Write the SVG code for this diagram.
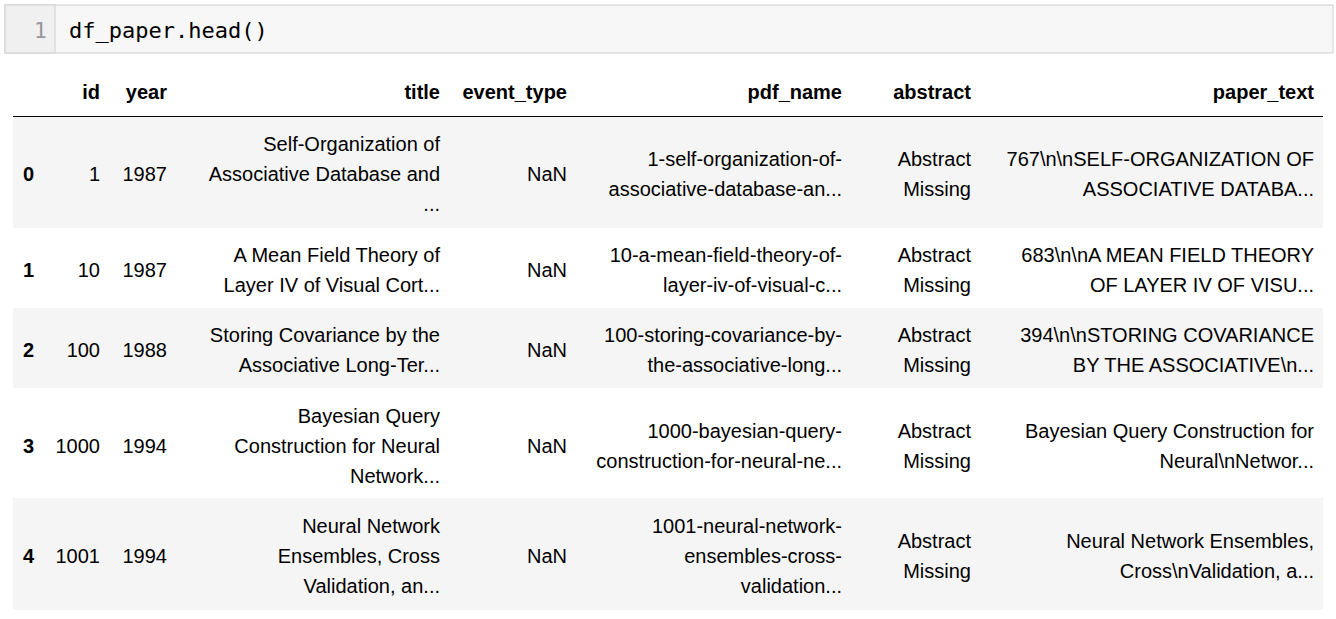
<svg xmlns="http://www.w3.org/2000/svg" width="1336" height="619" viewBox="0 0 1336 619">
<style>
text{font-family:"Liberation Sans",Arial,sans-serif;font-size:20px;fill:#000;text-anchor:end}
.h{font-weight:bold}
.i{font-weight:bold;text-anchor:start}
.code{font-family:"DejaVu Sans Mono",monospace;font-size:22px;text-anchor:start;fill:#000}
.ln{font-family:"DejaVu Sans Mono",monospace;font-size:22px;fill:#999}
.g{fill:#f5f5f5}
</style>
<rect width="1336" height="619" fill="#fff"/>
<g id="cell">
<rect x="5" y="5" width="1328" height="48" fill="#f7f7f7" stroke="#cfcfcf"/>
<rect x="5" y="5" width="50" height="48" fill="#f0f0f0" stroke="#cfcfcf"/>
<text class="ln" x="47" y="38">1</text>
<text class="code" x="69" y="38">df_paper.head()</text>
</g>
<g id="table">
<rect class="g" x="13" y="117" width="1310" height="111"/>
<rect class="g" x="13" y="308" width="1310" height="80"/>
<rect class="g" x="13" y="498" width="1310" height="112"/>
<line x1="13" y1="116.5" x2="1323" y2="116.5" stroke="#000" stroke-width="1"/>
<g class="hdr">
<text class="h" x="100" y="99">id</text><text class="h" x="167" y="99">year</text><text class="h" x="440" y="99">title</text><text class="h" x="567" y="99">event_type</text><text class="h" x="842" y="99">pdf_name</text><text class="h" x="971" y="99">abstract</text><text class="h" x="1314" y="99">paper_text</text>
</g>
<g id="r0">
<text class="i" x="23" y="181">0</text><text x="100" y="181">1</text><text x="167" y="181">1987</text>
<text x="440" y="151">Self-Organization of</text><text x="440" y="181">Associative Database and</text><text x="440" y="211">...</text>
<text x="567" y="181">NaN</text>
<text x="842" y="166">1-self-organization-of-</text><text x="842" y="196">associative-database-an...</text>
<text x="971" y="166">Abstract</text><text x="971" y="196">Missing</text>
<text x="1314" y="166">767\n\nSELF-ORGANIZATION OF</text><text x="1314" y="196">ASSOCIATIVE DATABA...</text>
</g>
<g id="r1">
<text class="i" x="23" y="277">1</text><text x="100" y="277">10</text><text x="167" y="277">1987</text>
<text x="440" y="262">A Mean Field Theory of</text><text x="440" y="292">Layer IV of Visual Cort...</text>
<text x="567" y="277">NaN</text>
<text x="842" y="262">10-a-mean-field-theory-of-</text><text x="842" y="292">layer-iv-of-visual-c...</text>
<text x="971" y="262">Abstract</text><text x="971" y="292">Missing</text>
<text x="1314" y="262">683\n\nA MEAN FIELD THEORY</text><text x="1314" y="292">OF LAYER IV OF VISU...</text>
</g>
<g id="r2">
<text class="i" x="23" y="357">2</text><text x="100" y="357">100</text><text x="167" y="357">1988</text>
<text x="440" y="342">Storing Covariance by the</text><text x="440" y="372">Associative Long-Ter...</text>
<text x="567" y="357">NaN</text>
<text x="842" y="342">100-storing-covariance-by-</text><text x="842" y="372">the-associative-long...</text>
<text x="971" y="342">Abstract</text><text x="971" y="372">Missing</text>
<text x="1314" y="342">394\n\nSTORING COVARIANCE</text><text x="1314" y="372">BY THE ASSOCIATIVE\n...</text>
</g>
<g id="r3">
<text class="i" x="23" y="453">3</text><text x="100" y="453">1000</text><text x="167" y="453">1994</text>
<text x="440" y="423">Bayesian Query</text><text x="440" y="453">Construction for Neural</text><text x="440" y="483">Network...</text>
<text x="567" y="453">NaN</text>
<text x="842" y="438">1000-bayesian-query-</text><text x="842" y="468">construction-for-neural-ne...</text>
<text x="971" y="438">Abstract</text><text x="971" y="468">Missing</text>
<text x="1314" y="438">Bayesian Query Construction for</text><text x="1314" y="468">Neural\nNetwor...</text>
</g>
<g id="r4">
<text class="i" x="23" y="563">4</text><text x="100" y="563">1001</text><text x="167" y="563">1994</text>
<text x="440" y="533">Neural Network</text><text x="440" y="563">Ensembles, Cross</text><text x="440" y="593">Validation, an...</text>
<text x="567" y="563">NaN</text>
<text x="842" y="533">1001-neural-network-</text><text x="842" y="563">ensembles-cross-</text><text x="842" y="593">validation...</text>
<text x="971" y="548">Abstract</text><text x="971" y="578">Missing</text>
<text x="1314" y="548">Neural Network Ensembles,</text><text x="1314" y="578">Cross\nValidation, a...</text>
</g>
</g>
</svg>
